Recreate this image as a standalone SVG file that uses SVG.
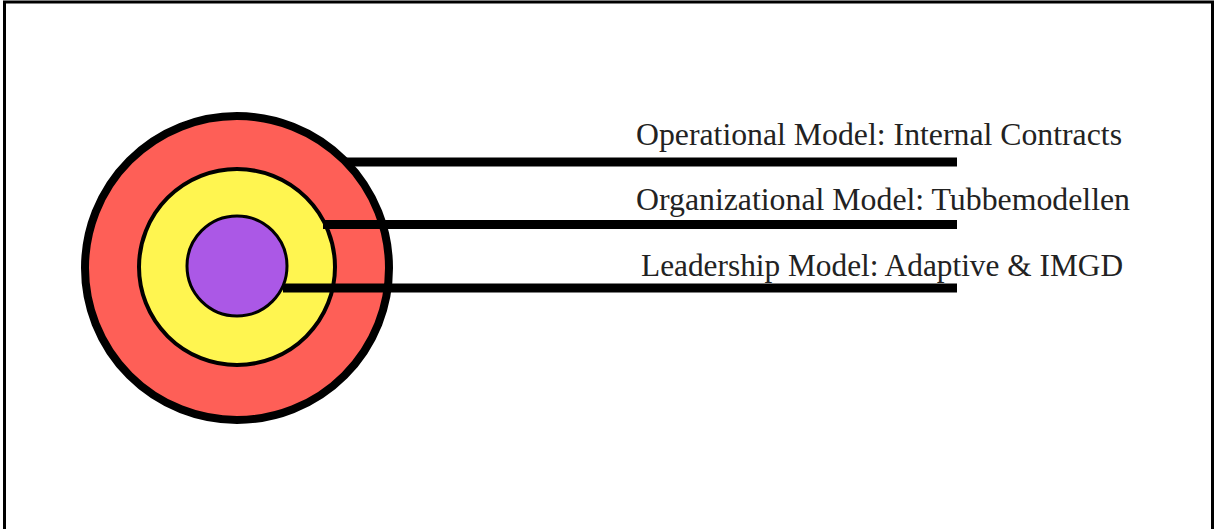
<svg xmlns="http://www.w3.org/2000/svg" width="1214" height="529" viewBox="0 0 1214 529">
  <style>
    .ring { stroke: #000; }
    .lead { stroke: #000; stroke-width: 9; fill: none; }
    .label { font-family: "Liberation Serif", "Times New Roman", serif; font-size: 32px; fill: #222; }
  </style>
  <rect width="1214" height="529" fill="#fff"/>
  <!-- frame, open at the bottom -->
  <path d="M4.5,529 V2 H1212.5 V529" fill="none" stroke="#000" stroke-width="3"/>

  <g id="operational">
    <circle class="ring" cx="237" cy="268" r="152" fill="#FE5F57" stroke-width="8"/>
  </g>
  <g id="organizational">
    <circle class="ring" cx="237" cy="267" r="98" fill="#FFF550" stroke-width="4"/>
  </g>
  <g id="leadership">
    <circle class="ring" cx="237" cy="266" r="50" fill="#AB58E6" stroke-width="3"/>
  </g>

  <g id="connectors">
    <line class="lead" x1="346" y1="162" x2="957" y2="162"/>
    <line class="lead" x1="323" y1="224.5" x2="957" y2="224.5"/>
    <line class="lead" x1="283" y1="288" x2="957" y2="288"/>
  </g>

  <g id="labels">
    <text class="label" x="636" y="145" textLength="486" lengthAdjust="spacingAndGlyphs">Operational Model: Internal Contracts</text>
    <text class="label" x="636" y="210" textLength="494" lengthAdjust="spacingAndGlyphs">Organizational Model: Tubbemodellen</text>
    <text class="label" x="641" y="276" textLength="482" lengthAdjust="spacingAndGlyphs">Leadership Model: Adaptive &amp; IMGD</text>
  </g>
</svg>
